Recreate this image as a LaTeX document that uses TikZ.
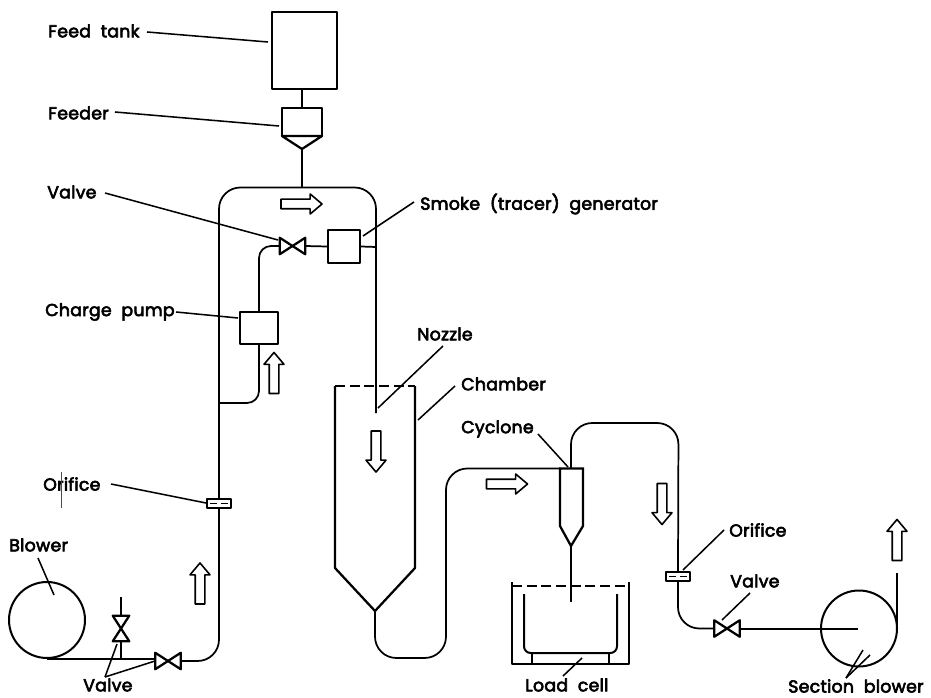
\documentclass[tikz,border=0pt]{standalone}
\usepackage{fontspec}
\setmainfont{Poppins}[FakeBold=3.5,LetterSpace=1.5,WordSpace=2]
\tikzset{
  every picture/.style={line join=round},
  pipe/.style={line width=1.3pt, rounded corners=16pt},
  small pipe/.style={line width=1.3pt, rounded corners=9pt},
  thick pipe/.style={line width=1.7pt},
  leader/.style={line width=1.15pt},
  lab/.style={font=\fontsize{13}{15}\selectfont, inner sep=0pt, text=black},
  unit/.style n args={2}{draw=black, line width=1.7pt, fill=white, inner sep=0pt, minimum width=#1*0.75pt, minimum height=#2*0.75pt},
  vlv/.style={inner sep=0pt, minimum width=25*0.75pt, minimum height=16*0.75pt},
  vlvv/.style={inner sep=0pt, minimum width=16*0.75pt, minimum height=25*0.75pt},
  flow/.pic={\draw[line width=1.2pt, fill=white] (-15.4pt,-3.6pt)--(6.5pt,-3.6pt)--(6.5pt,-7.5pt)--(15.4pt,0pt)--(6.5pt,7.5pt)--(6.5pt,3.6pt)--(-15.4pt,3.6pt)--cycle;},
}
\newcommand{\bowH}[1]{\draw[line width=1.7pt] (#1.north west)--(#1.south east)--(#1.north east)--(#1.south west)--cycle;}
\newcommand{\bowV}[1]{\draw[line width=1.7pt] (#1.north west)--(#1.south east)--(#1.south west)--(#1.north east)--cycle;}
\newcommand{\orif}[1]{\draw[line width=0.9pt] ([xshift=3pt]#1.west)--([xshift=-1.5pt]#1.center) ([xshift=1.5pt]#1.center)--([xshift=-3pt]#1.east);}
\begin{document}
\begin{tikzpicture}[x=0.75pt,y=-0.75pt]
\useasboundingbox (0,0) rectangle (931,698);
% equipment
\node[unit={65}{77}] (tank) at (304.5,50.5) {};
\node[unit={40}{28}] (feeder) at (302,122) {};
\coordinate (feedL) at (282,136);
\coordinate (feedR) at (322,136);
\coordinate (feedTip) at (302,149);
\draw[thick pipe, fill=white] (feedL)--(feedTip)--(feedR)--cycle;
\node[unit={32}{33}] (smoke) at (344,246.5) {};
\node[unit={38}{32}] (pump) at (259,328) {};
\node[vlv] (v1) at (292.5,246) {}; \bowH{v1}
\node[vlv] (v2) at (168,661) {}; \bowH{v2}
\node[vlvv] (v3) at (121,628.5) {}; \bowV{v3}
\node[vlv] (v4) at (727,628.5) {}; \bowH{v4}
\node[unit={24}{9}] (orA) at (219,503.5) {}; \orif{orA}
\node[unit={24}{9}] (orB) at (678,576.5) {}; \orif{orB}
\node[circle, draw=black, line width=1.5pt, inner sep=0pt, minimum size=76*0.75pt] (blowA) at (47,620) {};
\node[circle, draw=black, line width=1.5pt, inner sep=0pt, minimum size=76*0.75pt] (blowB) at (859,628.5) {};
% named points on the pipework
\coordinate (topMid) at (302,187.5);
\coordinate (nozTip) at (376,413);
\coordinate (tee) at (219,403);
\coordinate (rightPipe) at (376,247);
\coordinate (blowAb) at (47,658.5);
\coordinate (pipeAend) at (156,658.5);
\coordinate (v3top) at (121,597);
\coordinate (v3foot) at (121,658.5);
\coordinate (blowBc) at (858,628.5);
\coordinate (blowBr) at (897,628.5);
\coordinate (blowBup) at (897,573);
% chamber
\coordinate (chTL) at (335,386);
\coordinate (chTR) at (415,386);
\coordinate (chBL) at (335,568);
\coordinate (chBR) at (415,568);
\coordinate (chTip) at (375,611);
\draw[thick pipe] (chTL)--(chBL)--(chTip)--(chBR)--(chTR);
\draw[line width=1.4pt, dash pattern=on 7.5pt off 3.5pt] (chTL)--(chTR);
% cyclone
\coordinate (cyTL) at (560,468.5);
\coordinate (cyTR) at (583,468.5);
\coordinate (cyBL) at (560,526);
\coordinate (cyBR) at (583,526);
\coordinate (cyTip) at (571,546);
\coordinate (cyOut) at (571,468.5);
\coordinate (cyDrop) at (571,602);
\draw[thick pipe, line join=miter] (cyTL)--(cyBL)--(cyTip)--(cyBR)--(cyTR)--cycle;
% chamber to cyclone
\draw[pipe] (chTip)--(375,658)--(446,658)--(446,468.5)--(cyTL);
% cyclone to blower
\draw[pipe] (cyOut)--(571,423)--(678.5,423)--(orB.north);
\draw[pipe] (orB.south)|-(v4.west);
\draw[line width=1.5pt] (v4.east)--(blowBc);
\draw[line width=1.25pt] (blowBr)--(blowBup);
\draw[line width=1.25pt] (cyTip)--(cyDrop);
% collection bin
\coordinate (binTL) at (512,582);
\coordinate (binBL) at (512,664);
\coordinate (binBR) at (629,664);
\coordinate (binTR) at (629,582);
\coordinate (binDL) at (512,586);
\coordinate (binDR) at (629,586);
\draw[line width=1.5pt] (binTL)--(binBL)--(binBR)--(binTR);
\draw[line width=1.4pt, dash pattern=on 7.5pt off 3.5pt] (binDL)--(binDR);
\draw[line width=1.5pt, rounded corners=5pt] (524,594)--(524,653)--(617,653)--(617,594);
\coordinate (supLt) at (532,653);
\coordinate (supLb) at (532,664);
\coordinate (supRt) at (609,653);
\coordinate (supRb) at (609,664);
\draw[line width=1.5pt] (supLt)--(supLb);
\draw[line width=1.5pt] (supRt)--(supRb);
% main pipework
\draw[line width=1.3pt] (tank.south-|feeder.north)--(feeder.north);
\draw[line width=1.3pt] (feedTip)--(topMid);
\draw[pipe] (v2.east)-|(orA.south);
\draw[pipe] (orA.north)|-(topMid)-|(nozTip);
\draw[small pipe] (tee)-|(pump.south);
\draw[small pipe] (v1.west)-|(pump.north);
\draw[line width=1.3pt] (v1.east)--(smoke.west);
\draw[line width=1.3pt] (smoke.east)--(rightPipe);
\draw[line width=1.5pt] (blowAb)--(pipeAend);
\draw[line width=1.25pt] (v3top)--(v3.north);
\draw[line width=1.25pt] (v3.south)--(v3foot);
% flow arrows (the y axis runs downward, so rotate=90 points up)
\pic at (301.5,204) {flow};
\pic[rotate=90] at (274,373) {flow};
\pic[rotate=90] at (200,583.5) {flow};
\pic[rotate=-90] at (376,451.5) {flow};
\pic at (507,484) {flow};
\pic[rotate=-90] at (662,504) {flow};
\pic[rotate=90] at (897,540) {flow};
% labels
\node[lab, anchor=west] (lTank) at (48,31) {Feed tank};
\node[lab, anchor=west] (lFeeder) at (48,113) {Feeder};
\node[lab, anchor=west] (lValve) at (47,192) {Valve};
\node[lab, anchor=west] (lSmoke) at (420,204) {Smoke (tracer) generator};
\node[lab, anchor=west] (lPump) at (45,312) {Charge pump};
\node[lab, anchor=west] (lNozzle) at (417,334) {Nozzle};
\node[lab, anchor=west] (lChamber) at (461,384) {Chamber};
\node[lab, anchor=west] (lCyclone) at (461,429) {Cyclone};
\node[lab, anchor=west] (lOrA) at (43,484) {Orifice};
\node[lab, anchor=west] (lBlower) at (9,545) {Blower};
\node[lab, anchor=west] (lOrB) at (729,530) {Orifice};
\node[lab, anchor=west] (lVB) at (730,581) {Valve};
\node[lab, anchor=west] (lVA) at (83,685) {Valve};
\node[lab, anchor=west] (lLoad) at (525,685) {Load cell};
\node[lab, anchor=west] (lSect) at (788,686) {Section blower};
% leaders
\coordinate (a1) at (147,32); \coordinate (b1) at (268,42);
\coordinate (a2) at (115,112); \coordinate (b2) at (279,126);
\coordinate (a3) at (105,193); \coordinate (b3) at (278,240);
\coordinate (a4) at (414,202); \coordinate (b4) at (363,236);
\coordinate (a5) at (176,312); \coordinate (b5) at (238,318);
\coordinate (a6) at (443,346); \coordinate (b6) at (378,408);
\coordinate (a7) at (455,386); \coordinate (b7) at (418,420);
\coordinate (a8) at (538,434); \coordinate (b8) at (568,467);
\coordinate (a9) at (111,484); \coordinate (b9) at (206,503);
\coordinate (a10) at (38,558); \coordinate (b10) at (54,595);
\coordinate (a11) at (724,530); \coordinate (b11) at (683,570);
\coordinate (a12) at (750,593); \coordinate (b12) at (722,620);
\coordinate (a13) at (105,677); \coordinate (b13) at (117,644);
\coordinate (b14) at (155,661);
\coordinate (a15) at (563,676); \coordinate (b15) at (582,658);
\coordinate (a16) at (846,678); \coordinate (b16) at (863,650); \coordinate (b17) at (870,655);
\draw[leader] (a1)--(b1);
\draw[leader] (a2)--(b2);
\draw[leader] (a3)--(b3);
\draw[leader] (a4)--(b4);
\draw[leader] (a5)--(b5);
\draw[leader] (a6)--(b6);
\draw[leader] (a7)--(b7);
\draw[leader] (a8)--(b8);
\draw[leader] (a9)--(b9);
\draw[leader] (a10)--(b10);
\draw[leader] (a11)--(b11);
\draw[leader] (a12)--(b12);
\draw[leader] (a13)--(b13);
\draw[leader] (a13)--(b14);
\draw[leader] (a15)--(b15);
\draw[leader] (a16)--(b16);
\draw[leader] (a16)--(b17);
\coordinate (scanT) at (61,472);
\coordinate (scanB) at (61,508);
\draw[line width=0.4pt, black!70] (scanT)--(scanB);
\end{tikzpicture}
\end{document}
